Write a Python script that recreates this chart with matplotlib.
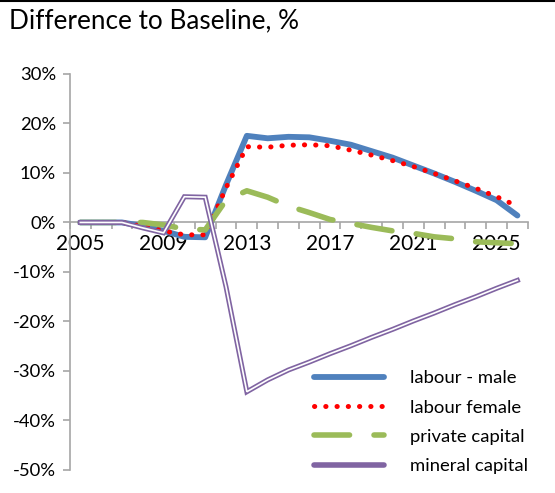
import matplotlib
matplotlib.use("Agg")
import matplotlib.pyplot as plt
from matplotlib.lines import Line2D
import numpy as np

years = list(range(2005, 2027))

labour_male = [0.0, 0.0, 0.0, -0.7, -1.7, -2.9, -3.0, 7.6, 17.5, 17.0, 17.3, 17.2,
               16.5, 15.7, 14.4, 13.1, 11.5, 9.9, 8.2, 6.4, 4.5, 1.4]
labour_female = [0.0, 0.0, 0.0, -0.8, -1.7, -2.5, -2.5, 7.0, 15.3, 15.2, 15.6, 15.7,
                 15.5, 14.6, 13.6, 12.5, 11.3, 9.9, 8.4, 6.9, 5.2, 3.3]
private_capital = [0.0, 0.0, 0.0, 0.0, -0.5, -1.3, -1.5, 4.5, 6.4, 5.1, 3.3, 2.0,
                   0.6, -0.2, -1.0, -1.7, -2.2, -2.9, -3.3, -3.9, -4.1, -4.3]
mineral_capital = [0.0, 0.0, 0.0, -1.1, -2.1, 5.2, 5.1, -13.0, -34.2, -31.8, -29.8, -28.2,
                   -26.5, -24.9, -23.2, -21.6, -19.9, -18.3, -16.6, -15.0, -13.3, -11.7]

year_labels = [2005, 2009, 2013, 2017, 2021, 2025]
y_ticks = [30, 20, 10, 0, -10, -20, -30, -40, -50]

plt.rcParams['font.family'] = ['Lato', 'DejaVu Sans']

fig = plt.figure(figsize=(5.55, 4.93), dpi=100)
ax = fig.add_axes([0.126, 0.0467, 0.825, 0.8033])

x = np.array(years)
ax.plot(x, labour_male, color='#4F81BD', lw=4.2, solid_capstyle='round',
        solid_joinstyle='round', label='labour - male', zorder=3)
ax.plot(x, labour_female, color='#FF0000', lw=3.6, linestyle=(0, (0.05, 2.2)),
        dash_capstyle='round', label='labour female', zorder=4)
ax.plot(x, private_capital, color='#9BBB59', lw=4.0, linestyle=(0, (6.4, 4.4)),
        dash_capstyle='round', label='private capital', zorder=5)
ax.plot(x, mineral_capital, color='#8064A2', lw=3.6, solid_joinstyle='miter',
        zorder=6)
ax.plot(x, mineral_capital, color='white', lw=1.2, solid_joinstyle='miter', zorder=7)

ax.set_xlim(2004.5, 2026.5)
ax.set_ylim(-50, 30)

# y axis
ax.set_yticks(y_ticks)
ax.set_yticklabels([f"{v}%" for v in y_ticks], fontsize=13.3)
ax.tick_params(axis='y', direction='out', length=5, width=1.2, color='#a6a6a6',
               pad=5, labelcolor='black')

# x axis sits on zero, ticks between categories, labels every four years
ax.spines['bottom'].set_position(('data', 0))
ax.set_xticks(np.arange(2004.5, 2027, 1.0))
ax.set_xticklabels([])
ax.tick_params(axis='x', which='major', direction='out', length=5, width=1.2,
               color='#a6a6a6')
ax.set_xticks(year_labels, minor=True)
ax.set_xticklabels([str(y) for y in year_labels], minor=True, fontsize=15)
ax.tick_params(axis='x', which='minor', length=0, pad=8)

for side in ['top', 'right']:
    ax.spines[side].set_visible(False)
for side in ['left', 'bottom']:
    ax.spines[side].set_color('#a6a6a6')
    ax.spines[side].set_linewidth(1.2)

# legend: the double-stroked series gets a plain purple key
handles, labels = ax.get_legend_handles_labels()
handles.append(Line2D([], [], color='#8064A2', lw=4.0, solid_capstyle='round'))
labels.append('mineral capital')
leg = ax.legend(handles, labels, loc='upper left', bbox_to_anchor=(0.566, 0.249),
                bbox_transform=fig.transFigure, frameon=False, fontsize=13.3,
                handlelength=3.8, handletextpad=1.4, labelspacing=0.72,
                borderaxespad=0, borderpad=0)

fig.text(0.016, 0.958, 'Difference to Baseline, %', fontsize=18.8,
         ha='left', va='center')
fig.add_artist(Line2D([0, 1], [0.998, 0.998], color='black', lw=1.5,
                      transform=fig.transFigure))

fig.savefig('out.png', dpi=100)
